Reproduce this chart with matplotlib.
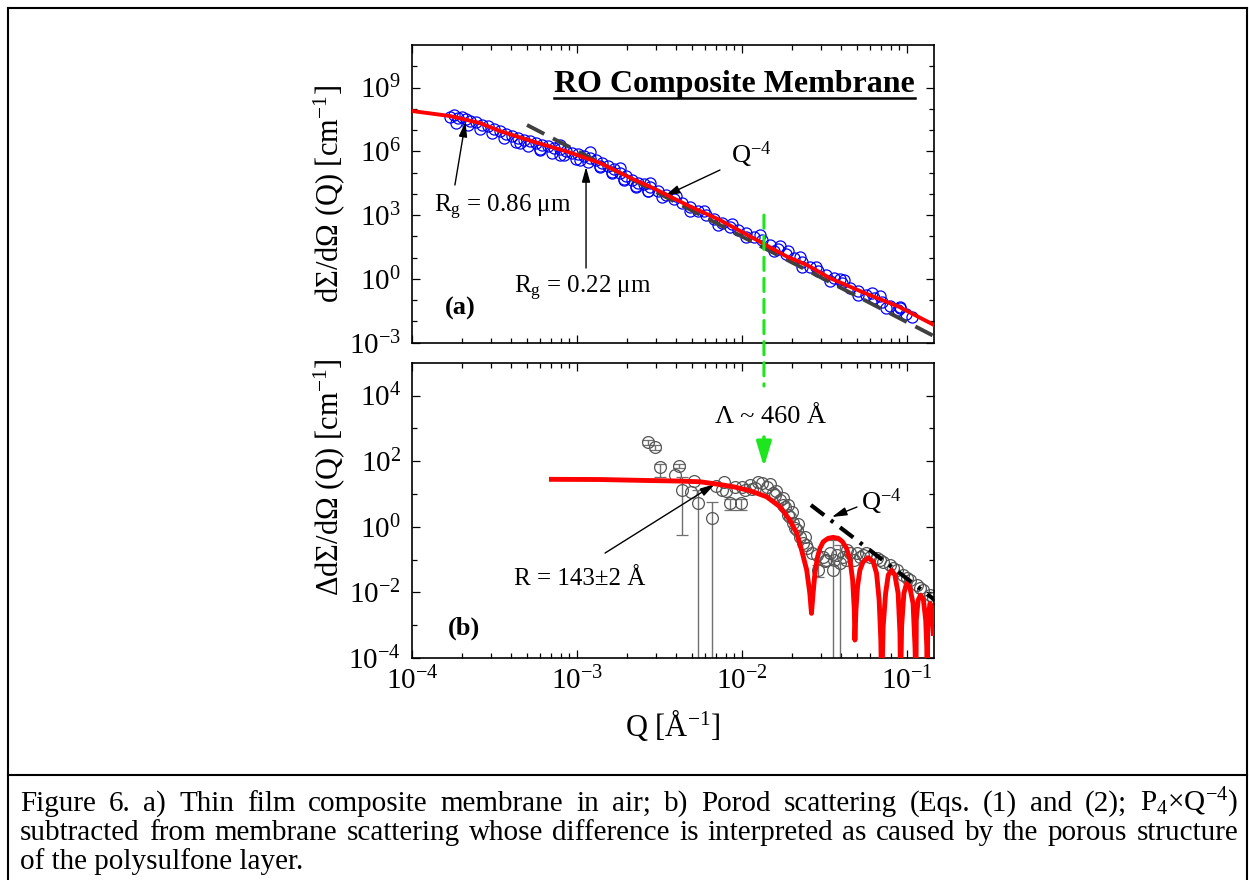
import matplotlib
matplotlib.use('Agg')
import matplotlib.pyplot as plt
from matplotlib.ticker import FixedLocator, LogLocator, LogFormatterSciNotation, NullFormatter
from matplotlib.patches import ConnectionPatch
from matplotlib.lines import Line2D

plt.rcParams['font.family'] = ['Liberation Serif', 'DejaVu Serif']
plt.rcParams['mathtext.fontset'] = 'custom'
plt.rcParams['mathtext.rm'] = 'Liberation Serif'
plt.rcParams['mathtext.it'] = 'Liberation Serif:italic'
plt.rcParams['mathtext.bf'] = 'Liberation Serif:bold'

# (a) membrane in air, measured points
q_air = [1.70e-4, 1.80e-4, 1.90e-4, 2.01e-4, 2.12e-4, 2.25e-4, 2.44e-4, 2.65e-4, 2.89e-4, 3.14e-4,
         3.41e-4, 3.71e-4, 4.04e-4, 4.39e-4, 4.77e-4, 5.19e-4, 5.64e-4, 6.14e-4, 6.68e-4, 7.26e-4,
         7.89e-4, 8.58e-4, 9.33e-4, 1.01e-3, 1.10e-3, 1.20e-3, 1.30e-3, 1.42e-3, 1.54e-3, 1.68e-3,
         1.82e-3, 1.98e-3, 2.15e-3, 2.34e-3, 2.55e-3, 2.77e-3, 3.10e-3, 3.46e-3, 3.87e-3, 4.33e-3,
         4.84e-3, 5.41e-3, 6.05e-3, 6.77e-3, 7.57e-3, 8.46e-3, 9.46e-3, 1.06e-2, 1.18e-2, 1.32e-2,
         1.48e-2, 1.65e-2, 1.85e-2, 2.07e-2, 2.31e-2, 2.58e-2, 2.89e-2, 3.23e-2, 3.61e-2, 4.04e-2,
         4.51e-2, 5.05e-2, 5.64e-2, 6.31e-2, 7.05e-2, 7.88e-2, 8.82e-2, 9.86e-2, 0.107,
         4.51e-4, 5.97e-4, 7.89e-4, 1.04e-3, 1.38e-3, 1.63e-3, 1.93e-3, 2.28e-3, 2.69e-3,
         7.89e-4, 1.20e-3, 1.82e-3, 2.77e-3, 1.70e-2, 2.25e-2, 3.93e-2, 6.85e-2, 9.08e-2,
         1.85e-4, 2.18e-4, 2.58e-4, 3.05e-4, 3.61e-4, 4.27e-4, 5.05e-4, 5.97e-4, 7.05e-4, 8.34e-4,
         9.86e-4, 1.17e-3, 1.38e-3, 1.63e-3, 1.93e-3, 2.28e-3, 2.69e-3, 3.27e-3, 3.98e-3, 4.84e-3,
         5.88e-3, 7.16e-3, 8.69e-3, 1.06e-2, 1.29e-2, 1.56e-2, 1.90e-2, 2.31e-2, 2.81e-2, 3.41e-2,
         4.15e-2, 5.05e-2, 6.14e-2, 7.46e-2, 9.08e-2]
i_air = [4.10e7, 5.09e7, 3.68e7, 4.10e7, 3.30e7, 2.66e7, 2.39e7, 1.73e7, 1.55e7, 1.12e7,
         9.02e6, 6.52e6, 5.25e6, 4.23e6, 3.40e6, 3.05e6, 2.45e6, 1.98e6, 1.77e6, 1.43e6,
         1.28e6, 1.03e6, 8.32e5, 7.46e5, 6.01e5, 4.84e5, 3.90e5, 2.82e5, 2.04e5, 1.47e5,
         9.53e4, 6.89e4, 4.47e4, 3.23e4, 2.90e4, 2.09e4, 1.36e4, 8.79e3, 5.70e3, 3.70e3,
         2.40e3, 1.56e3, 1.01e3, 655, 424, 275, 199, 144, 93.1, 67.3,
         39.2, 25.4, 14.8, 9.57, 6.21, 3.61, 2.34, 1.52, 1.10, 0.638,
         0.372, 0.269, 0.174, 0.126, 0.0817, 0.0528, 0.0343, 0.0222, 0.0161,
         2.45e6, 1.15e6, 6.70e5, 3.90e5, 2.04e5, 1.06e5, 4.98e4, 2.33e4, 1.36e4,
         1.98e6, 9.27e5, 1.64e5, 3.23e4, 35.2, 10.7, 0.984, 0.156, 0.0426,
         2.14e7, 1.64e7, 1.08e7, 7.03e6, 4.08e6, 2.65e6, 1.87e6, 1.24e6, 8.79e5, 6.49e5,
         4.58e5, 3.04e5, 1.79e5, 9.53e4, 4.56e4, 2.14e4, 1.29e4, 7.08e3, 7.91e3, 1.56e3,
         1.56e3, 341, 389, 93.1, 116, 20.9, 20.4, 3.78, 3.81, 0.793,
         0.883, 0.174, 0.216, 0.0426, 0.0474]

# (a) fit and Q^-4 guide
q_fit_air = [1.00e-4, 1.70e-4, 2.58e-4, 3.41e-4, 5.41e-4, 8.69e-4, 1.38e-3, 2.18e-3, 2.89e-3,
             4.65e-3, 7.36e-3, 1.17e-2, 1.87e-2, 2.48e-2, 3.41e-2, 5.56e-2, 8.95e-2, 0.146]
i_fit_air = [7.87e7, 4.57e7, 2.14e7, 9.0e6, 2.89e6, 9.8e5, 2.82e5, 4.98e4, 1.88e4,
             2.98e3, 587, 83.6, 11.3, 4.49, 1.10, 0.216, 0.049, 6.8e-3]
q_porod_air = [4.98e-4, 0.146]
i_porod_air = [1.73e7, 2.04e-3]

# (b) difference, points without visible error bars
q_diff = [3.93e-3, 4.91e-3, 5.12e-3, 6.95e-3, 7.57e-3, 7.78e-3, 9.08e-3, 1.04e-2, 1.12e-2, 1.20e-2,
          1.25e-2, 1.32e-2, 1.42e-2, 1.54e-2, 1.70e-2, 1.82e-2, 1.95e-2, 2.04e-2, 2.15e-2, 2.25e-2,
          2.34e-2, 2.48e-2, 2.65e-2, 2.85e-2, 3.10e-2, 3.41e-2, 3.77e-2, 4.09e-2, 4.52e-2, 4.98e-2,
          5.41e-2, 5.97e-2, 6.58e-2, 7.16e-2, 7.88e-2, 8.69e-2, 9.46e-2, 0.104, 0.115, 0.125, 0.138,
          1.47e-2, 1.62e-2, 1.78e-2, 1.90e-2, 2.00e-2, 2.20e-2, 2.40e-2, 3.2e-2, 3.6e-2, 4.3e-2,
          5.2e-2, 8.0e-3, 1.0e-2, 1.15e-2,
          3.23e-2, 4.31e-2, 4.75e-2, 5.65e-2, 6.85e-2, 8.22e-2, 0.100, 0.120, 0.144,
          1.58e-2, 1.77e-2, 1.90e-2, 2.10e-2, 2.44e-2]
i_diff = [37.7, 11.4, 24.7, 17.4, 13.2, 23.1, 16.2, 13.2, 18.7, 15.1,
          23.1, 21.5, 16.2, 10.6, 6.52, 3.99, 1.98, 1.30, 0.793, 0.485,
          0.318, 0.224, 0.158, 0.137, 0.119, 0.158, 0.137, 0.119, 0.158, 0.158,
          0.137, 0.119, 0.111, 0.0839, 0.0679, 0.0479, 0.0337, 0.0237, 0.0167, 0.0117, 0.00828,
          20.0, 12.0, 7.5, 4.5, 2.8, 1.2, 0.5, 0.09, 0.1, 0.1,
          0.12, 12.0, 16.0, 14.0,
          0.0966, 0.195, 0.0966, 0.158, 0.0966, 0.0551, 0.0273, 0.0135, 0.0067,
          9.25, 4.59, 2.28, 0.912, 0.277]

# (b) points with visible error bars (lower / upper ends of the bars)
q_diff_err = [2.69e-3, 2.97e-3, 3.18e-3, 4.15e-3, 4.33e-3, 5.41e-3, 6.58e-3, 8.46e-3, 9.87e-3,
              2.89e-2, 3.56e-2, 3.93e-2]
i_diff_err = [382, 269, 66.1, 71.0, 13.2, 5.28, 1.84, 5.28, 5.28, 0.0479, 0.0479, 0.0782]
lo_diff_err = [320, 225, 33, 60, 0.56, 1e-6, 1e-6, 3.2, 3.2, 0.029, 1e-6, 1e-6]
hi_diff_err = [455, 320, 80, 84, 33, 13, 5.7, 7, 7, 0.07, 0.39, 0.28]

# (b) sphere fit, R = 143 A, and Q^-4 guide
q_fit_diff = [7.00e-4, 1.38e-3, 2.77e-3, 4.21e-3, 5.56e-3, 7.03e-3, 8.86e-3, 1.12e-2, 1.41e-2, 1.70e-2,
              1.95e-2, 2.15e-2, 2.30e-2, 2.47e-2, 2.58e-2, 2.64e-2, 2.70e-2, 2.77e-2, 2.86e-2, 2.97e-2,
              3.11e-2, 3.33e-2, 3.57e-2, 3.84e-2, 4.07e-2, 4.31e-2, 4.52e-2, 4.69e-2, 4.80e-2, 4.84e-2,
              4.91e-2, 5.02e-2, 5.19e-2, 5.43e-2, 5.83e-2, 6.25e-2, 6.55e-2, 6.79e-2, 6.95e-2, 7.03e-2,
              7.18e-2, 7.43e-2, 7.71e-2, 8.07e-2, 8.46e-2, 8.85e-2, 9.08e-2, 9.15e-2, 9.29e-2, 9.59e-2,
              9.96e-2, 0.104, 0.109, 0.112, 0.1135, 0.114, 0.117, 0.121, 0.126, 0.130,
              0.132, 0.1325, 0.134, 0.138, 0.141, 0.1445]
i_fit_diff = [27.9, 27.5, 25.6, 24.7, 23.5, 20.0, 16.6, 12.5, 8.22, 4.07,
              1.60, 0.630, 0.195, 0.0479, 9.33e-3, 2.29e-3, 9.33e-3, 0.0379, 0.109, 0.219,
              0.349, 0.443, 0.475, 0.443, 0.349, 0.219, 0.0966, 0.0237, 2.88e-3, 3.52e-4,
              2.88e-3, 0.0148, 0.0479, 0.0857, 0.114, 0.0857, 0.0379, 5.82e-3, 3.52e-4, 1e-5,
              8.93e-4, 9.33e-3, 0.0337, 0.0479, 0.0337, 9.33e-3, 5.6e-4, 1e-5, 8.93e-4, 9.33e-3,
              0.0188, 0.0148, 4.62e-3, 2.2e-4, 1e-5, 1.43e-3, 5.82e-3, 8.28e-3, 5.82e-3, 1.43e-3,
              2.2e-4, 1e-5, 1.43e-3, 4.62e-3, 3.64e-3, 5.6e-4]
q_porod_diff = [2.62e-2, 0.148]
i_porod_diff = [4.59, 5.82e-3]

q_peak = 0.0136  # 2*pi/460 A

caption = [
    "Figure 6. a) Thin film composite membrane in air; b) Porod scattering (Eqs. (1) and (2); P$_4$×Q$^{-4}$)",
    "subtracted from membrane scattering whose difference is interpreted as caused by the porous structure",
    "of the polysulfone layer.",
]

W, H = 1249, 880
fig = plt.figure(figsize=(W / 100, H / 100), dpi=100)
ax1 = fig.add_axes([412 / W, 1 - 342.7 / H, 522 / W, 297.7 / H])
ax2 = fig.add_axes([412 / W, 1 - 658 / H, 522 / W, 295.3 / H], sharex=ax1)

green = '#1ee61e'

# panel (a)
ax1.plot(q_air, i_air, 'o', mfc='none', mec='#0000ff', ms=8, mew=0.9, zorder=2)
ax1.plot(q_porod_air, i_porod_air, color='#404040', lw=2.8, dashes=(5, 2.5), zorder=3)
ax1.plot(q_fit_air, i_fit_air, color='#ff0000', lw=2.8, zorder=4)

# panel (b)
ax2.plot(q_diff, i_diff, 'o', mfc='none', mec='#555555', ms=8.5, mew=0.9, zorder=2)
yerr = [[i - l for i, l in zip(i_diff_err, lo_diff_err)],
        [h - i for i, h in zip(i_diff_err, hi_diff_err)]]
ax2.errorbar(q_diff_err, i_diff_err, yerr=yerr, fmt='o', mfc='none', mec='#555555', ms=8.5, mew=0.9,
             ecolor='#707070', elinewidth=1, capsize=4, capthick=1, zorder=2)
ax2.plot(q_fit_diff, i_fit_diff, color='#ff0000', lw=3.5, zorder=4)
ax2.plot(q_porod_diff, i_porod_diff, color='black', lw=3, linestyle=(0, (4, 2, 0.8, 2)), zorder=5)

ax1.set_xscale('log')
ax1.set_yscale('log')
ax2.set_yscale('log')
ax1.set_xlim(1e-4, 0.146)
ax1.set_ylim(1e-3, 1e11)
ax2.set_ylim(1e-4, 1e5)

ax2.xaxis.set_major_locator(LogLocator(base=10, numticks=10))
ax2.xaxis.set_minor_locator(LogLocator(base=10, subs=range(2, 10), numticks=20))
ax2.xaxis.set_minor_formatter(NullFormatter())
ax1.yaxis.set_major_locator(FixedLocator([1e-3, 1, 1e3, 1e6, 1e9]))
ax1.yaxis.set_minor_locator(FixedLocator([1e-2, 1e-1, 1e1, 1e2, 1e4, 1e5, 1e7, 1e8, 1e10]))
ax2.yaxis.set_major_locator(FixedLocator([1e-4, 1e-2, 1, 1e2, 1e4]))
ax2.yaxis.set_minor_locator(FixedLocator([1e-3, 1e-1, 1e1, 1e3]))
for ax in (ax1, ax2):
    ax.yaxis.set_major_formatter(LogFormatterSciNotation())
    ax.yaxis.set_minor_formatter(NullFormatter())
    ax.tick_params(which='both', direction='in', top=True, right=True, width=0.9, labelsize=21)
    ax.tick_params(which='major', length=6)
    ax.tick_params(which='minor', length=3.3)
    ax.tick_params(axis='y', pad=8)
    ax.tick_params(axis='x', pad=6)
    for s in ax.spines.values():
        s.set_linewidth(1.2)
ax1.tick_params(labelbottom=False)

ax1.set_ylabel('dΣ/dΩ (Q) [cm$^{-1}$]', fontsize=22)
ax1.yaxis.set_label_coords(-0.125, 0.5)
ax2.set_ylabel('ΔdΣ/dΩ (Q) [cm$^{-1}$]', fontsize=22)
ax2.yaxis.set_label_coords(-0.125, 0.613)
ax2.set_xlabel('Q [Å$^{-1}$]', fontsize=22)
ax2.xaxis.set_label_coords(0.5, -0.165)

# annotations, panel (a)
title = ax1.text(0.9636, 0.842, 'RO Composite Membrane', transform=ax1.transAxes,
                 ha='right', va='baseline', fontsize=23, fontweight='bold')
ax1.text(0.063, 0.096, '(a)', transform=ax1.transAxes, fontsize=19, fontweight='bold', va='baseline')
ax1.text(0.042, 0.439, 'R$_\\mathregular{g}$ = 0.86 μm', transform=ax1.transAxes, fontsize=18, va='baseline')
ax1.text(0.195, 0.167, 'R$_\\mathregular{g}$ = 0.22 μm', transform=ax1.transAxes, fontsize=18, va='baseline')
ax1.text(0.611, 0.604, 'Q$^{-4}$', transform=ax1.transAxes, fontsize=19, va='baseline')
arrow = dict(arrowstyle='-|>,head_length=0.9,head_width=0.25', color='k', lw=1,
             shrinkA=0, shrinkB=0, mutation_scale=10)
ax1.annotate('', xy=(2.11e-4, 2.47e7), xytext=(1.82e-4, 2.6e4), arrowprops=arrow)
ax1.annotate('', xy=(1.135e-3, 1.83e5), xytext=(1.135e-3, 3.24), arrowprops=arrow)
ax1.annotate('', xy=(3.41e-3, 8e3), xytext=(7.36e-3, 1.32e5), arrowprops=arrow)

# annotations, panel (b)
ax2.text(0.069, 0.081, '(b)', transform=ax2.transAxes, fontsize=19, fontweight='bold', va='baseline')
ax2.text(0.686, 0.797, 'Λ ~ 460 Å', transform=ax2.transAxes, fontsize=19, ha='center', va='baseline')
ax2.text(0.195, 0.247, 'R = 143±2 Å', transform=ax2.transAxes, fontsize=18, va='baseline')
ax2.text(0.860, 0.501, 'Q$^{-4}$', transform=ax2.transAxes, fontsize=19, va='baseline')
ax2.annotate('', xy=(6.86e-3, 20.0), xytext=(1.48e-3, 0.158), arrowprops=arrow)
ax2.annotate('', xy=(3.51e-2, 1.98), xytext=(4.98e-2, 3.99), arrowprops=arrow)
ax2.annotate('', xy=(q_peak, 66), xytext=(q_peak, 543),
             arrowprops=dict(arrowstyle='-|>,head_length=1.5,head_width=0.45', color=green, lw=2.5,
                             shrinkA=0, shrinkB=0, mutation_scale=10))
con = ConnectionPatch(xyA=(q_peak, 1e3), coordsA='data', axesA=ax1,
                      xyB=(q_peak, 1.95e4), coordsB='data', axesB=ax2,
                      color=green, lw=2.2, linestyle=(0, (4.3, 2.6)))
fig.add_artist(con)

# frame of the figure and caption box
for xs, ys in [([8, 8], [8, 880]), ([1247, 1247], [8, 880]),
               ([8, 1247], [8, 8]), ([8, 1247], [775, 775])]:
    fig.add_artist(Line2D([x / W for x in xs], [1 - y / H for y in ys], color='k', lw=1.5))

renderer = fig.canvas.get_renderer()

# underline the title
bb = title.get_window_extent(renderer)
inv = ax1.transAxes.inverted()
ux0 = inv.transform((bb.x0, bb.y0))[0]
ux1 = inv.transform((bb.x1, bb.y0))[0]
ax1.plot([ux0, ux1], [0.822, 0.822], transform=ax1.transAxes, color='k', lw=1.8, clip_on=False)


def justify_line(text, y_px, x0_px, x1_px, size):
    words = text.split(' ')
    objs = [fig.text(0, 1 - y_px / H, w, fontsize=size, va='baseline') for w in words]
    widths = [o.get_window_extent(renderer).width for o in objs]
    gap = (x1_px - x0_px - sum(widths)) / (len(words) - 1)
    x = x0_px
    for o, w in zip(objs, widths):
        o.set_x(x / W)
        x += w + gap


cap_size = 21
justify_line(caption[0], 811, 20, 1238, cap_size)
justify_line(caption[1], 840, 20, 1238, cap_size)
fig.text(20 / W, 1 - 869 / H, caption[2], fontsize=cap_size, va='baseline')

fig.savefig('out.png', dpi=100)
